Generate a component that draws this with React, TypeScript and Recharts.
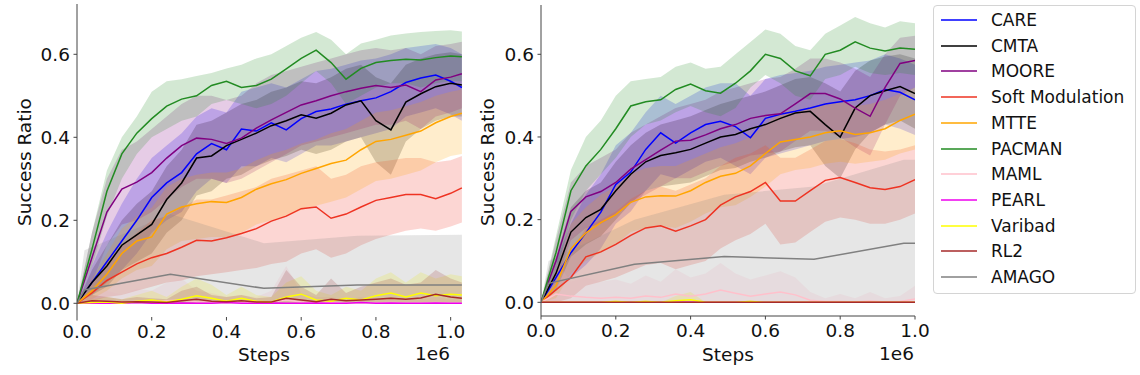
import React from 'react';
import { ComposedChart, Area, Line, XAxis, YAxis } from 'recharts';

// ---------- x grids ----------
const X1 = [0, 0.04, 0.08, 0.12, 0.16, 0.2, 0.24, 0.28, 0.32, 0.36, 0.4, 0.44, 0.48, 0.52, 0.56, 0.6, 0.64, 0.68, 0.72, 0.76, 0.8, 0.84, 0.88, 0.92, 0.96, 1.0, 1.03];
const X2 = [0, 0.04, 0.08, 0.12, 0.16, 0.2, 0.24, 0.28, 0.32, 0.36, 0.4, 0.44, 0.48, 0.52, 0.56, 0.6, 0.64, 0.68, 0.72, 0.76, 0.8, 0.84, 0.88, 0.92, 0.96, 1.0];
const ZERO27 = [0, 0, 0, 0, 0, 0, 0, 0, 0, 0, 0, 0, 0, 0, 0, 0, 0, 0, 0, 0, 0, 0, 0, 0, 0, 0, 0];
const ZERO26 = [0, 0, 0, 0, 0, 0, 0, 0, 0, 0, 0, 0, 0, 0, 0, 0, 0, 0, 0, 0, 0, 0, 0, 0, 0, 0];

const X_TICKS = [0, 0.2, 0.4, 0.6, 0.8, 1.0];
const Y_TICKS = [0, 0.2, 0.4, 0.6];

const METHODS = ['CARE', 'CMTA', 'MOORE', 'Soft Modulation', 'MTTE', 'PACMAN', 'MAML', 'PEARL', 'Varibad', 'RL2', 'AMAGO'];
const COLORS = ['#0000ff', '#000000', '#800080', '#ee3322', '#ffa500', '#228b22', '#ffc0cb', '#ee00ee', '#ffff00', '#a52a2a', '#808080'];

// ---------- panel 1 ----------
const p1CareMean = [0, 0.05, 0.1, 0.15, 0.2, 0.255, 0.29, 0.315, 0.36, 0.385, 0.37, 0.42, 0.415, 0.435, 0.418, 0.445, 0.462, 0.468, 0.48, 0.488, 0.495, 0.51, 0.532, 0.543, 0.55, 0.535, 0.52];
const p1CareHi = [0, 0.09, 0.17, 0.24, 0.3, 0.35, 0.38, 0.41, 0.45, 0.47, 0.46, 0.51, 0.52, 0.53, 0.52, 0.54, 0.56, 0.565, 0.575, 0.585, 0.59, 0.6, 0.615, 0.62, 0.625, 0.615, 0.6];
const p1CareLo = [0, 0.02, 0.05, 0.08, 0.12, 0.17, 0.2, 0.22, 0.27, 0.3, 0.29, 0.33, 0.33, 0.35, 0.34, 0.36, 0.38, 0.38, 0.39, 0.4, 0.41, 0.42, 0.45, 0.46, 0.47, 0.455, 0.44];

const p1CmtaMean = [0, 0.05, 0.09, 0.14, 0.165, 0.19, 0.25, 0.29, 0.35, 0.355, 0.38, 0.395, 0.41, 0.428, 0.44, 0.454, 0.446, 0.458, 0.478, 0.488, 0.44, 0.418, 0.485, 0.505, 0.522, 0.53, 0.526];
const p1CmtaHi = [0, 0.08, 0.14, 0.2, 0.24, 0.27, 0.33, 0.37, 0.43, 0.44, 0.46, 0.48, 0.49, 0.51, 0.52, 0.535, 0.53, 0.545, 0.565, 0.575, 0.545, 0.53, 0.575, 0.59, 0.6, 0.605, 0.6];
const p1CmtaLo = [0, 0.02, 0.04, 0.08, 0.1, 0.12, 0.17, 0.2, 0.26, 0.27, 0.3, 0.31, 0.33, 0.345, 0.355, 0.37, 0.36, 0.37, 0.39, 0.4, 0.34, 0.31, 0.39, 0.42, 0.44, 0.45, 0.45];

const p1MooreMean = [0, 0.11, 0.22, 0.275, 0.292, 0.315, 0.35, 0.38, 0.398, 0.395, 0.385, 0.398, 0.422, 0.442, 0.46, 0.478, 0.488, 0.5, 0.51, 0.518, 0.525, 0.52, 0.526, 0.51, 0.538, 0.545, 0.553];
const p1MooreHi = [0, 0.17, 0.3, 0.37, 0.39, 0.42, 0.45, 0.48, 0.5, 0.5, 0.49, 0.5, 0.53, 0.55, 0.56, 0.57, 0.58, 0.59, 0.6, 0.61, 0.615, 0.61, 0.615, 0.6, 0.62, 0.625, 0.63];
const p1MooreLo = [0, 0.05, 0.14, 0.19, 0.2, 0.22, 0.25, 0.28, 0.3, 0.3, 0.29, 0.3, 0.32, 0.34, 0.36, 0.38, 0.39, 0.4, 0.41, 0.42, 0.43, 0.43, 0.44, 0.42, 0.45, 0.46, 0.47];

const p1SoftMean = [0, 0.025, 0.055, 0.075, 0.095, 0.11, 0.12, 0.135, 0.152, 0.15, 0.158, 0.168, 0.18, 0.198, 0.21, 0.228, 0.232, 0.205, 0.215, 0.232, 0.248, 0.255, 0.262, 0.262, 0.252, 0.265, 0.278];
const p1SoftHi = [0, 0.05, 0.1, 0.14, 0.17, 0.2, 0.21, 0.23, 0.25, 0.25, 0.26, 0.27, 0.28, 0.3, 0.31, 0.32, 0.33, 0.3, 0.31, 0.33, 0.34, 0.345, 0.35, 0.35, 0.34, 0.345, 0.355];
const p1SoftLo = [0, 0.005, 0.015, 0.02, 0.03, 0.04, 0.05, 0.055, 0.065, 0.07, 0.075, 0.08, 0.085, 0.095, 0.1, 0.12, 0.13, 0.11, 0.12, 0.14, 0.155, 0.165, 0.175, 0.18, 0.175, 0.185, 0.195];

const p1MtteMean = [0, 0.03, 0.07, 0.12, 0.15, 0.16, 0.215, 0.232, 0.24, 0.245, 0.243, 0.255, 0.275, 0.288, 0.298, 0.313, 0.325, 0.337, 0.345, 0.37, 0.39, 0.395, 0.405, 0.415, 0.435, 0.45, 0.458];
const p1MtteHi = [0, 0.06, 0.12, 0.18, 0.21, 0.23, 0.28, 0.3, 0.31, 0.315, 0.315, 0.325, 0.345, 0.36, 0.37, 0.385, 0.395, 0.41, 0.42, 0.44, 0.46, 0.465, 0.475, 0.485, 0.5, 0.51, 0.515];
const p1MtteLo = [0, 0.01, 0.03, 0.06, 0.08, 0.09, 0.13, 0.15, 0.155, 0.16, 0.16, 0.17, 0.19, 0.2, 0.21, 0.225, 0.235, 0.245, 0.255, 0.275, 0.295, 0.3, 0.31, 0.32, 0.34, 0.355, 0.36];

const p1PacmanMean = [0, 0.13, 0.27, 0.36, 0.41, 0.445, 0.475, 0.492, 0.5, 0.525, 0.535, 0.52, 0.525, 0.54, 0.565, 0.59, 0.61, 0.58, 0.54, 0.566, 0.58, 0.585, 0.588, 0.586, 0.592, 0.596, 0.594];
const p1PacmanHi = [0, 0.17, 0.32, 0.4, 0.45, 0.51, 0.535, 0.54, 0.548, 0.555, 0.566, 0.575, 0.59, 0.6, 0.62, 0.64, 0.654, 0.635, 0.6, 0.626, 0.635, 0.645, 0.65, 0.654, 0.656, 0.658, 0.655];
const p1PacmanLo = [0, 0.09, 0.21, 0.3, 0.36, 0.4, 0.42, 0.44, 0.45, 0.48, 0.49, 0.48, 0.47, 0.48, 0.5, 0.53, 0.56, 0.53, 0.48, 0.5, 0.52, 0.53, 0.53, 0.52, 0.53, 0.535, 0.535];

const p1MamlMean = [0, 0.002, 0.004, 0.003, 0.005, 0.004, 0.006, 0.008, 0.004, 0.003, 0.002, 0.003, 0.002, 0.004, 0.008, 0.003, 0.002, 0.002, 0.001, 0.002, 0.001, 0.002, 0.001, 0.001, 0.002, 0.001, 0.001];
const p1MamlHi = [0, 0.015, 0.03, 0.02, 0.035, 0.03, 0.05, 0.06, 0.03, 0.025, 0.015, 0.02, 0.015, 0.03, 0.09, 0.025, 0.015, 0.015, 0.01, 0.015, 0.01, 0.015, 0.01, 0.01, 0.015, 0.01, 0.01];

const p1PearlMean = [0, 0, 0.001, 0, 0.002, 0, 0, 0.001, 0, 0, 0.002, 0, 0, 0.001, 0, 0, 0.001, 0, 0, 0.002, 0, 0.001, 0, 0, 0.001, 0, 0];
const p1PearlHi = [0, 0.003, 0.004, 0.002, 0.005, 0.002, 0.002, 0.004, 0.002, 0.002, 0.005, 0.002, 0.002, 0.004, 0.002, 0.002, 0.004, 0.002, 0.002, 0.005, 0.002, 0.004, 0.002, 0.002, 0.004, 0.002, 0.002];

const p1VaribadMean = [0, 0.002, 0.003, 0, 0.005, 0.008, 0.003, 0.01, 0.018, 0.012, 0.005, 0.012, 0.005, 0.003, 0.015, 0.022, 0.008, 0.005, 0.012, 0.008, 0.018, 0.025, 0.015, 0.025, 0.018, 0.022, 0.02];
const p1VaribadHi = [0, 0.01, 0.015, 0.01, 0.02, 0.03, 0.015, 0.04, 0.06, 0.045, 0.02, 0.04, 0.02, 0.015, 0.05, 0.065, 0.03, 0.02, 0.04, 0.03, 0.06, 0.075, 0.05, 0.075, 0.06, 0.07, 0.065];

const p1Rl2Mean = [0, 0.006, 0.005, 0.003, 0.004, 0.003, 0.002, 0.006, 0.01, 0.005, 0.004, 0.006, 0.003, 0.003, 0.012, 0.008, 0.004, 0.01, 0.006, 0.008, 0.01, 0.012, 0.01, 0.013, 0.022, 0.015, 0.012];
const p1Rl2Hi = [0, 0.02, 0.015, 0.01, 0.015, 0.012, 0.01, 0.03, 0.04, 0.02, 0.015, 0.02, 0.012, 0.015, 0.08, 0.04, 0.02, 0.06, 0.025, 0.04, 0.05, 0.06, 0.045, 0.05, 0.08, 0.06, 0.05];

const p1AmagoX = [0, 0.02, 0.25, 0.5, 0.75, 1.03];
const p1AmagoMean = [0, 0.032, 0.07, 0.036, 0.044, 0.044];
const p1AmagoHi = [0, 0.128, 0.215, 0.145, 0.163, 0.165];
const p1AmagoLo = [0, 0, 0, 0, 0, 0];

// ---------- panel 2 ----------
const p2CareMean = [0, 0.06, 0.12, 0.168, 0.218, 0.285, 0.315, 0.37, 0.41, 0.385, 0.41, 0.43, 0.438, 0.425, 0.398, 0.445, 0.455, 0.462, 0.47, 0.48, 0.485, 0.49, 0.5, 0.515, 0.508, 0.49];
const p2CareHi = [0, 0.1, 0.19, 0.26, 0.31, 0.38, 0.41, 0.46, 0.5, 0.48, 0.5, 0.52, 0.53, 0.53, 0.5, 0.54, 0.55, 0.555, 0.56, 0.57, 0.575, 0.58, 0.585, 0.6, 0.59, 0.575];
const p2CareLo = [0, 0.03, 0.06, 0.09, 0.13, 0.19, 0.22, 0.27, 0.31, 0.3, 0.32, 0.34, 0.35, 0.33, 0.31, 0.35, 0.36, 0.37, 0.38, 0.39, 0.395, 0.4, 0.41, 0.43, 0.42, 0.405];

const p2CmtaMean = [0, 0.07, 0.17, 0.205, 0.225, 0.27, 0.31, 0.34, 0.355, 0.362, 0.37, 0.385, 0.4, 0.406, 0.42, 0.43, 0.445, 0.458, 0.462, 0.43, 0.4, 0.47, 0.5, 0.512, 0.522, 0.505];
const p2CmtaHi = [0, 0.11, 0.23, 0.27, 0.29, 0.34, 0.38, 0.41, 0.43, 0.44, 0.45, 0.465, 0.48, 0.49, 0.5, 0.51, 0.525, 0.54, 0.545, 0.53, 0.51, 0.56, 0.585, 0.595, 0.6, 0.59];
const p2CmtaLo = [0, 0.03, 0.11, 0.14, 0.16, 0.2, 0.24, 0.27, 0.28, 0.285, 0.29, 0.305, 0.32, 0.325, 0.34, 0.35, 0.365, 0.375, 0.38, 0.33, 0.3, 0.37, 0.41, 0.43, 0.44, 0.42];

const p2MooreMean = [0, 0.1, 0.22, 0.255, 0.268, 0.29, 0.322, 0.345, 0.368, 0.39, 0.392, 0.405, 0.42, 0.43, 0.445, 0.452, 0.456, 0.48, 0.505, 0.505, 0.492, 0.47, 0.45, 0.52, 0.578, 0.585];
const p2MooreHi = [0, 0.15, 0.29, 0.33, 0.35, 0.37, 0.41, 0.43, 0.45, 0.47, 0.48, 0.49, 0.51, 0.52, 0.53, 0.54, 0.545, 0.565, 0.59, 0.59, 0.58, 0.565, 0.545, 0.6, 0.64, 0.645];
const p2MooreLo = [0, 0.05, 0.15, 0.18, 0.19, 0.21, 0.24, 0.26, 0.28, 0.3, 0.3, 0.315, 0.33, 0.34, 0.355, 0.36, 0.365, 0.39, 0.415, 0.415, 0.4, 0.375, 0.355, 0.43, 0.5, 0.52];

const p2SoftMean = [0, 0.03, 0.06, 0.11, 0.122, 0.14, 0.162, 0.18, 0.185, 0.172, 0.185, 0.2, 0.235, 0.255, 0.268, 0.29, 0.245, 0.245, 0.27, 0.295, 0.302, 0.29, 0.277, 0.273, 0.28, 0.297];
const p2SoftHi = [0, 0.07, 0.12, 0.18, 0.2, 0.22, 0.25, 0.27, 0.28, 0.27, 0.285, 0.3, 0.33, 0.35, 0.36, 0.38, 0.35, 0.35, 0.37, 0.39, 0.395, 0.385, 0.37, 0.365, 0.37, 0.38];
const p2SoftLo = [0, 0, 0.01, 0.04, 0.05, 0.06, 0.075, 0.09, 0.095, 0.08, 0.09, 0.1, 0.13, 0.15, 0.165, 0.19, 0.14, 0.145, 0.17, 0.195, 0.205, 0.2, 0.19, 0.19, 0.2, 0.215];

const p2MtteMean = [0, 0.04, 0.13, 0.168, 0.193, 0.212, 0.242, 0.255, 0.258, 0.257, 0.27, 0.29, 0.305, 0.312, 0.33, 0.36, 0.388, 0.394, 0.4, 0.41, 0.415, 0.406, 0.41, 0.42, 0.44, 0.455];
const p2MtteHi = [0, 0.08, 0.19, 0.23, 0.26, 0.28, 0.31, 0.325, 0.33, 0.33, 0.345, 0.36, 0.375, 0.385, 0.4, 0.43, 0.46, 0.465, 0.47, 0.48, 0.485, 0.475, 0.48, 0.49, 0.505, 0.52];
const p2MtteLo = [0, 0.01, 0.07, 0.1, 0.12, 0.14, 0.17, 0.18, 0.185, 0.18, 0.195, 0.215, 0.23, 0.235, 0.255, 0.28, 0.31, 0.32, 0.325, 0.335, 0.34, 0.335, 0.34, 0.345, 0.36, 0.37];

const p2PacmanMean = [0, 0.12, 0.27, 0.33, 0.37, 0.42, 0.475, 0.485, 0.49, 0.515, 0.528, 0.512, 0.506, 0.53, 0.56, 0.6, 0.59, 0.56, 0.548, 0.6, 0.61, 0.63, 0.615, 0.608, 0.615, 0.612];
const p2PacmanHi = [0, 0.16, 0.32, 0.4, 0.44, 0.5, 0.535, 0.54, 0.545, 0.57, 0.58, 0.565, 0.57, 0.6, 0.63, 0.66, 0.65, 0.62, 0.61, 0.65, 0.67, 0.69, 0.675, 0.665, 0.68, 0.675];
const p2PacmanLo = [0, 0.07, 0.2, 0.27, 0.31, 0.35, 0.4, 0.43, 0.44, 0.46, 0.475, 0.46, 0.45, 0.47, 0.52, 0.55, 0.53, 0.5, 0.49, 0.54, 0.55, 0.57, 0.555, 0.55, 0.555, 0.55];

const p2MamlMean = [0, 0.02, 0.015, 0.012, 0.01, 0.012, 0.01, 0.015, 0.012, 0.02, 0.015, 0.02, 0.03, 0.022, 0.015, 0.02, 0.025, 0.018, 0.005, 0.002, 0.002, 0.001, 0.003, 0.001, 0.002, 0.008];
const p2MamlHi = [0, 0.1, 0.05, 0.06, 0.05, 0.055, 0.045, 0.065, 0.05, 0.08, 0.06, 0.07, 0.095, 0.07, 0.055, 0.065, 0.075, 0.06, 0.025, 0.01, 0.02, 0.01, 0.025, 0.01, 0.015, 0.04];

const p2VaribadMean = [0, 0, 0, 0, 0, 0.002, 0, 0.002, 0, 0.004, 0.006, 0, 0, 0, 0.002, 0, 0, 0, 0, 0, 0, 0, 0, 0, 0, 0];
const p2VaribadHi = [0, 0, 0, 0, 0, 0.005, 0, 0.005, 0, 0.015, 0.025, 0, 0, 0, 0.005, 0, 0, 0, 0, 0, 0, 0, 0, 0, 0, 0];

const p2AmagoX = [0, 0.02, 0.25, 0.49, 0.73, 0.97, 1.0];
const p2AmagoMean = [0, 0.046, 0.092, 0.111, 0.104, 0.143, 0.143];
const p2AmagoHi = [0, 0.1, 0.2, 0.26, 0.28, 0.345, 0.345];
const p2AmagoLo = [0, 0, 0, 0, 0, 0, 0];

// ---------- helpers ----------
type Pt = { x: number; m: number; band: [number, number] };
function build(xs: number[], m: number[], lo: number[], hi: number[]): Pt[] {
  return xs.map((x, i) => ({ x, m: m[i], band: [lo[i], hi[i]] as [number, number] }));
}

const PANEL1: Pt[][] = [
  build(X1, p1CareMean, p1CareLo, p1CareHi),
  build(X1, p1CmtaMean, p1CmtaLo, p1CmtaHi),
  build(X1, p1MooreMean, p1MooreLo, p1MooreHi),
  build(X1, p1SoftMean, p1SoftLo, p1SoftHi),
  build(X1, p1MtteMean, p1MtteLo, p1MtteHi),
  build(X1, p1PacmanMean, p1PacmanLo, p1PacmanHi),
  build(X1, p1MamlMean, ZERO27, p1MamlHi),
  build(X1, p1PearlMean, ZERO27, p1PearlHi),
  build(X1, p1VaribadMean, ZERO27, p1VaribadHi),
  build(X1, p1Rl2Mean, ZERO27, p1Rl2Hi),
  build(p1AmagoX, p1AmagoMean, p1AmagoLo, p1AmagoHi),
];

const PANEL2: Pt[][] = [
  build(X2, p2CareMean, p2CareLo, p2CareHi),
  build(X2, p2CmtaMean, p2CmtaLo, p2CmtaHi),
  build(X2, p2MooreMean, p2MooreLo, p2MooreHi),
  build(X2, p2SoftMean, p2SoftLo, p2SoftHi),
  build(X2, p2MtteMean, p2MtteLo, p2MtteHi),
  build(X2, p2PacmanMean, p2PacmanLo, p2PacmanHi),
  build(X2, p2MamlMean, ZERO26, p2MamlHi),
  build(X2, ZERO26, ZERO26, ZERO26),
  build(X2, p2VaribadMean, ZERO26, p2VaribadHi),
  build(X2, ZERO26, ZERO26, ZERO26),
  build(p2AmagoX, p2AmagoMean, p2AmagoLo, p2AmagoHi),
];

const FONT = '"DejaVu Sans", sans-serif';
const SPINE = '#444';
const fmt = (v: number) => v.toFixed(1);

type PanelProps = {
  series: Pt[][];
  width: number;
  margin: { top: number; right: number; bottom: number; left: number };
  yAxisWidth: number;
  xAxisHeight: number;
  xDomain: [number, number];
  yDomain: [number, number];
  bottomSpine: boolean;
};

function Panel({ series, width, margin, yAxisWidth, xAxisHeight, xDomain, yDomain, bottomSpine }: PanelProps) {
  const tickStyle = { fill: '#111', fontSize: 18.5, fontFamily: FONT };
  return (
    <ComposedChart width={width} height={375} margin={margin}>
      <XAxis
        xAxisId="b"
        type="number"
        dataKey="x"
        domain={xDomain}
        ticks={X_TICKS}
        tickFormatter={fmt}
        allowDataOverflow
        axisLine={bottomSpine ? { stroke: SPINE } : false}
        tickLine={{ stroke: SPINE }}
        tickSize={3.5}
        tickMargin={4}
        height={xAxisHeight}
        tick={tickStyle}
        interval={0}
      />
      <XAxis
        xAxisId="t"
        orientation="top"
        type="number"
        domain={xDomain}
        allowDataOverflow
        tick={false}
        tickLine={false}
        height={0}
        axisLine={{ stroke: SPINE }}
      />
      <YAxis
        yAxisId="l"
        type="number"
        domain={yDomain}
        ticks={Y_TICKS}
        tickFormatter={fmt}
        allowDataOverflow
        axisLine={{ stroke: SPINE }}
        tickLine={{ stroke: SPINE }}
        tickSize={3.5}
        tickMargin={3.5}
        width={yAxisWidth}
        tick={tickStyle}
        interval={0}
      />
      <YAxis
        yAxisId="r"
        orientation="right"
        type="number"
        domain={yDomain}
        allowDataOverflow
        tick={false}
        tickLine={false}
        width={0}
        axisLine={{ stroke: SPINE }}
      />
      {series.flatMap((data, i) => [
        <Area
          key={`band-${i}`}
          xAxisId="b"
          yAxisId="l"
          data={data}
          dataKey="band"
          type="linear"
          stroke="none"
          fill={COLORS[i]}
          fillOpacity={0.2}
          dot={false}
          activeDot={false}
          isAnimationActive={false}
        />,
        <Line
          key={`line-${i}`}
          xAxisId="b"
          yAxisId="l"
          data={data}
          dataKey="m"
          type="linear"
          stroke={COLORS[i]}
          strokeWidth={1.5}
          dot={false}
          activeDot={false}
          isAnimationActive={false}
        />,
      ])}
    </ComposedChart>
  );
}

const abs = (left: number, top: number): React.CSSProperties => ({ position: 'absolute', left, top });

function AxisText({ x, y, text, rotate, align }: { x: number; y: number; text: string; rotate?: boolean; align?: 'center' | 'right' }) {
  const tx = align === 'right' ? '-100%' : '-50%';
  return (
    <div
      style={{
        ...abs(x, y),
        fontFamily: FONT,
        fontSize: 18.5,
        lineHeight: 1,
        color: '#111',
        whiteSpace: 'nowrap',
        transform: `translate(${tx}, -50%)${rotate ? ' rotate(-90deg)' : ''}`,
        transformOrigin: rotate ? '50% 50%' : undefined,
      }}
    >
      {text}
    </div>
  );
}

function Legend() {
  return (
    <div
      style={{
        ...abs(933, 5),
        width: 201,
        height: 287,
        border: '1px solid #d4d4d4',
        borderRadius: 4,
        background: '#fff',
      }}
    >
      {METHODS.map((name, i) => (
        <div key={name} style={{ position: 'absolute', left: 0, top: 14 + i * 25.7 - 14, height: 28, width: 200 }}>
          <div
            style={{
              position: 'absolute',
              left: 7,
              top: 13,
              width: 36,
              height: 2,
              background: COLORS[i],
              opacity: 0.75,
            }}
          />
          <div
            style={{
              position: 'absolute',
              left: 57,
              top: 14,
              transform: 'translateY(-50%)',
              fontFamily: FONT,
              fontSize: 17,
              lineHeight: 1,
              color: '#111',
              whiteSpace: 'nowrap',
            }}
          >
            {name}
          </div>
        </div>
      ))}
    </div>
  );
}

export default function App() {
  return (
    <div style={{ position: 'absolute', left: 0, top: 0, width: 1140, height: 375, background: '#fff', overflow: 'hidden' }}>
      <div style={abs(0, 0)}>
        <Panel
          series={PANEL1}
          width={470}
          margin={{ top: 4, right: 7, bottom: 0, left: 0 }}
          yAxisWidth={77}
          xAxisHeight={58}
          xDomain={[0, 1.033]}
          yDomain={[-0.033, 0.7212]}
          bottomSpine={false}
        />
      </div>
      <div style={abs(470, 0)}>
        <Panel
          series={PANEL2}
          width={460}
          margin={{ top: 5, right: 15, bottom: 0, left: 0 }}
          yAxisWidth={71}
          xAxisHeight={59}
          xDomain={[0, 1.0]}
          yDomain={[-0.0331, 0.7193]}
          bottomSpine={true}
        />
      </div>
      <AxisText x={25} y={162} text="Success Ratio" rotate />
      <AxisText x={488} y={162} text="Success Ratio" rotate />
      <AxisText x={264} y={355} text="Steps" />
      <AxisText x={728} y={355} text="Steps" />
      <AxisText x={450} y={354} text="1e6" align="right" />
      <AxisText x={914} y={354} text="1e6" align="right" />
      <Legend />
    </div>
  );
}
